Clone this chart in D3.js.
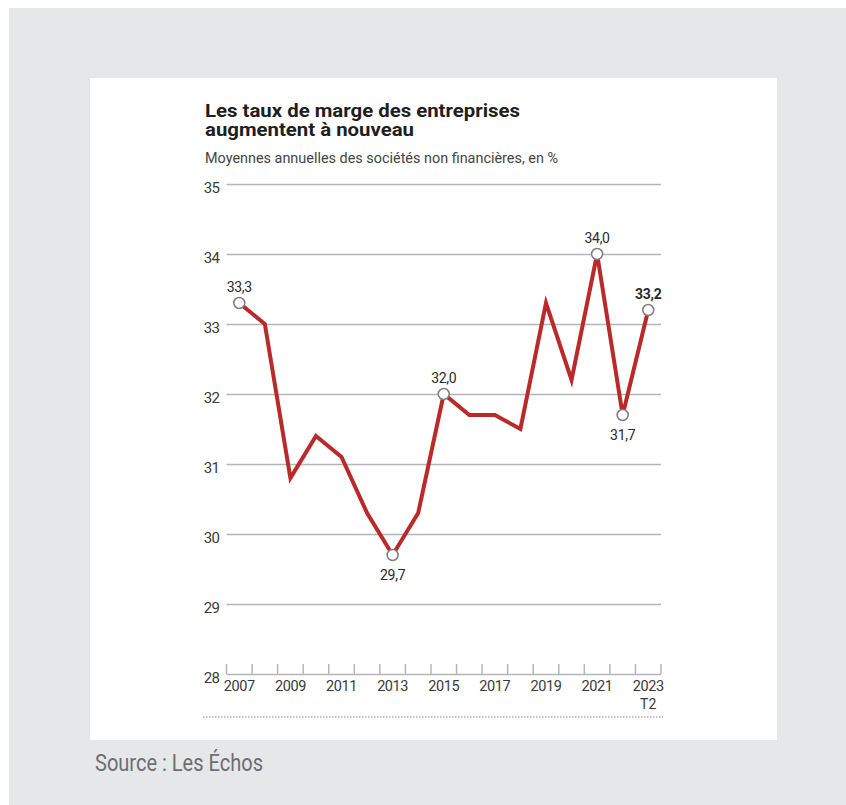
<!DOCTYPE html>
<html>
<head>
<meta charset="utf-8">
<script src="https://d3js.org/d3.v7.min.js"></script>
<style>
  body { margin: 0; background: #fff; }
  text { font-family: Roboto, "Noto Sans", sans-serif; }
</style>
</head>
<body>
<div id="chart"></div>
<script>
var width = 846;
var height = 805;

// data
var years = [2007, 2008, 2009, 2010, 2011, 2012, 2013, 2014, 2015, 2016, 2017, 2018, 2019, 2020, 2021, 2022, 2023];
var rates = [33.3, 33.0, 30.8, 31.4, 31.1, 30.3, 29.7, 30.3, 32.0, 31.7, 31.7, 31.5, 33.3, 32.2, 34.0, 31.7, 33.2];
var yTicks = [28, 29, 30, 31, 32, 33, 34, 35];
var xLabelYears = [2007, 2009, 2011, 2013, 2015, 2017, 2019, 2021, 2023];
// points with a circle and their label placement
var marked = [
  { year: 2007, pos: "above", bold: false },
  { year: 2013, pos: "below", bold: false },
  { year: 2015, pos: "above", bold: false },
  { year: 2021, pos: "above", bold: false },
  { year: 2022, pos: "below", bold: false },
  { year: 2023, pos: "above", bold: true }
];

var data = years.map(function (y, i) { return { year: y, value: rates[i] }; });
var byYear = {};
data.forEach(function (d) { byYear[d.year] = d; });

var svg = d3.select("#chart").append("svg")
  .attr("width", width)
  .attr("height", height);

// background frame
svg.append("rect").attr("x", 9).attr("y", 8).attr("width", width - 9).attr("height", height - 8).attr("fill", "#e6e7e8");
svg.append("rect").attr("x", 90).attr("y", 78).attr("width", 687).attr("height", 662).attr("fill", "#ffffff");

// scales
var xScale = d3.scaleBand().domain(years).range([226.5, 661]);
var yScale = d3.scaleLinear().domain([28, 35]).range([674, 184]);

// titles
svg.append("text")
  .attr("x", 205).attr("y", 117)
  .attr("font-size", "18px").attr("font-weight", "bold").attr("fill", "#1e1e1e")
  .attr("font-family", "Inter, Roboto, sans-serif")
  .attr("textLength", 315).attr("lengthAdjust", "spacingAndGlyphs")
  .text("Les taux de marge des entreprises");
svg.append("text")
  .attr("x", 205).attr("y", 136)
  .attr("font-size", "18px").attr("font-weight", "bold").attr("fill", "#1e1e1e")
  .attr("font-family", "Inter, Roboto, sans-serif")
  .attr("textLength", 209).attr("lengthAdjust", "spacingAndGlyphs")
  .text("augmentent à nouveau");
svg.append("text")
  .attr("x", 205).attr("y", 163)
  .attr("font-size", "14px").attr("fill", "#444")
  .attr("textLength", 353).attr("lengthAdjust", "spacingAndGlyphs")
  .text("Moyennes annuelles des sociétés non financières, en %");

// y axis with gridlines
var yAxis = d3.axisLeft(yScale)
  .tickValues(yTicks)
  .tickSize(-(661 - 226.5))
  .tickPadding(7)
  .tickFormat(d3.format("d"));

var gy = svg.append("g")
  .attr("transform", "translate(226.5,0)")
  .call(yAxis);
gy.select(".domain").remove();
gy.selectAll(".tick line").attr("stroke", "#b5b5b5").attr("stroke-width", 1.5);
gy.selectAll(".tick text")
  .attr("font-size", "15px").attr("fill", "#3a3a3a")
  .attr("font-family", "Roboto, sans-serif")
  .attr("dy", "0.55em")
  .attr("letter-spacing", "-0.5px");

// x axis: ticks at band edges pointing up
var edges = years.map(function (y) { return xScale(y); }).concat([xScale.range()[1]]);
var gx = svg.append("g").attr("class", "x-axis");
gx.selectAll("line.edge")
  .data(edges)
  .enter()
  .append("line")
  .attr("class", "edge")
  .attr("x1", function (d) { return d; })
  .attr("x2", function (d) { return d; })
  .attr("y1", yScale(28))
  .attr("y2", yScale(28) - 10)
  .attr("stroke", "#b5b5b5")
  .attr("stroke-width", 1.5);

gx.selectAll("text.year")
  .data(xLabelYears)
  .enter()
  .append("text")
  .attr("class", "year")
  .attr("x", function (d) { return xScale(d) + xScale.bandwidth() / 2; })
  .attr("y", 691)
  .attr("text-anchor", "middle")
  .attr("font-size", "14.5px")
  .attr("letter-spacing", "-0.4px")
  .attr("fill", "#3a3a3a")
  .text(function (d) { return d; });

gx.append("text")
  .attr("x", xScale(2023) + xScale.bandwidth() / 2)
  .attr("y", 709)
  .attr("text-anchor", "middle")
  .attr("font-size", "14px")
  .attr("fill", "#3a3a3a")
  .text("T2");

// dotted rule under the axis
svg.append("line")
  .attr("x1", 203).attr("x2", 663)
  .attr("y1", 717).attr("y2", 717)
  .attr("stroke", "#8a8a8a")
  .attr("stroke-width", 1.2)
  .attr("stroke-dasharray", "1.5,1.5");

// line
var line = d3.line()
  .x(function (d) { return xScale(d.year) + xScale.bandwidth() / 2; })
  .y(function (d) { return yScale(d.value); });

svg.append("path")
  .datum(data)
  .attr("d", line)
  .attr("fill", "none")
  .attr("stroke", "#bb2a2b")
  .attr("stroke-width", 4)
  .attr("stroke-linejoin", "miter")
  .attr("stroke-miterlimit", 4);

// circles and value labels
var marks = svg.append("g").selectAll("g")
  .data(marked)
  .enter()
  .append("g")
  .attr("transform", function (d) {
    var p = byYear[d.year];
    return "translate(" + (xScale(p.year) + xScale.bandwidth() / 2) + "," + yScale(p.value) + ")";
  });

marks.append("circle")
  .attr("r", 5.5)
  .attr("fill", "#ffffff")
  .attr("stroke", "#7d7d7d")
  .attr("stroke-width", 1.5);

marks.append("text")
  .attr("y", function (d) { return d.pos === "above" ? -11 : 25; })
  .attr("text-anchor", "middle")
  .attr("font-size", "14px")
  .attr("font-weight", function (d) { return d.bold ? "bold" : "normal"; })
  .attr("fill", "#2a2a2a")
  .attr("letter-spacing", "-0.3px")
  .text(function (d) { return byYear[d.year].value.toFixed(1).replace(".", ","); });

// source
svg.append("text")
  .attr("x", 95).attr("y", 771)
  .attr("font-size", "23px")
  .attr("font-family", "'Liberation Sans Narrow', 'DejaVu Sans Condensed', sans-serif")
  .attr("fill", "#6d6e71")
  .attr("textLength", 168).attr("lengthAdjust", "spacingAndGlyphs")
  .text("Source : Les Échos");
</script>
</body>
</html>
